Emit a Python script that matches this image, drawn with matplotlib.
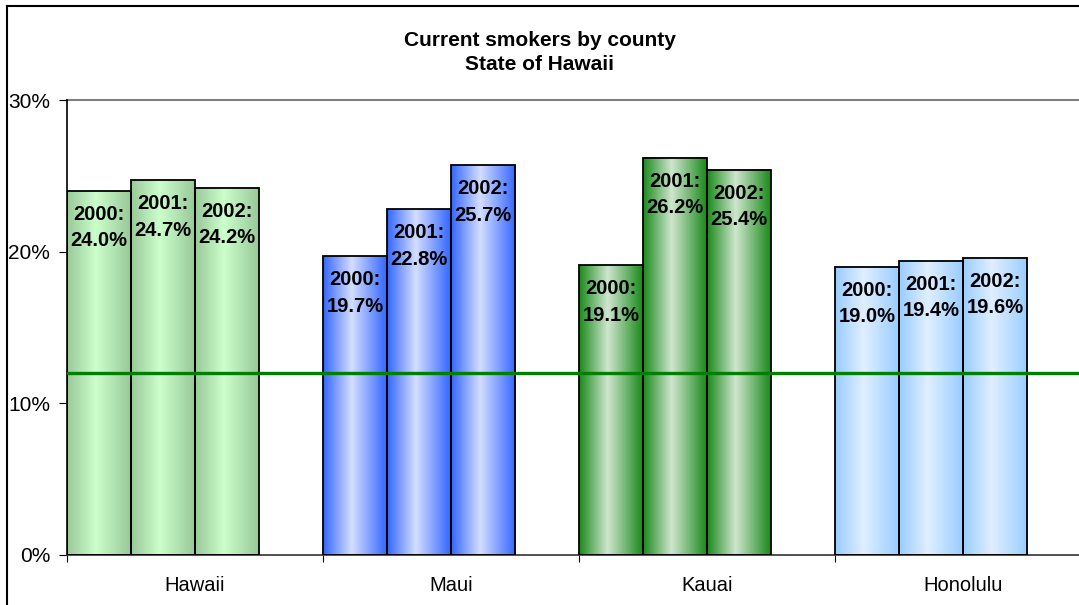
import numpy as np
import matplotlib
matplotlib.use("Agg")
import matplotlib.pyplot as plt
from matplotlib.colors import LinearSegmentedColormap
from matplotlib.lines import Line2D

plt.rcParams['font.family'] = ['Liberation Sans', 'DejaVu Sans']

# data
counties = ['Hawaii', 'Maui', 'Kauai', 'Honolulu']
years = ['2000', '2001', '2002']
hawaii = [24.0, 24.7, 24.2]
maui = [19.7, 22.8, 25.7]
kauai = [19.1, 26.2, 25.4]
honolulu = [19.0, 19.4, 19.6]
target = 12.0
yticks = [0, 10, 20, 30]

# (dark edge, light centre) per county
shades = [('#99c899', '#ccffcc'),
          ('#3366ff', '#d4deff'),
          ('#1a8a1a', '#cfe6cf'),
          ('#99ccff', '#e0efff')]

fig = plt.figure(figsize=(10.79, 6.05), dpi=100)
ax = fig.add_axes([67 / 1079, 1 - 555 / 605, 1 - 67 / 1079, 455 / 605])

bw = 0.25
grad = np.linspace(0, 1, 256).reshape(1, -1)
for i, vals in enumerate([hawaii, maui, kauai, honolulu]):
    dark, light = shades[i]
    cmap = LinearSegmentedColormap.from_list(
        'c%d' % i, [(0, dark), (0.45, light), (1, dark)])
    xs = i + bw / 2 + np.arange(len(vals)) * bw
    bars = ax.bar(xs, vals, width=bw, facecolor='none', edgecolor='black',
                  linewidth=1.3, zorder=3)
    for b, v, yr in zip(bars, vals, years):
        x0 = b.get_x()
        ax.imshow(grad, extent=[x0, x0 + bw, 0, v], aspect='auto',
                  cmap=cmap, zorder=2, interpolation='bicubic')
        ax.annotate('%s:\n%.1f%%' % (yr, v), (x0 + bw / 2, v),
                    xytext=(0, -10), textcoords='offset points',
                    ha='center', va='top', fontsize=14.5, fontweight='bold',
                    linespacing=1.5, zorder=5)

ax.axhline(target, color='#008000', linewidth=2.4, zorder=4)
ax.axhline(30, color='#808080', linewidth=1.5, zorder=1, clip_on=False)

ax.set_xlim(0, 1012 / 256)
ax.set_ylim(0, 30)
ax.set_yticks(yticks)
ax.set_yticklabels(['%d%%' % t for t in yticks])
ax.set_xticks([0, 1, 2, 3])
ax.set_xticklabels([])
ax.set_xticks([i + 0.5 for i in range(len(counties))], minor=True)
ax.set_xticklabels(counties, minor=True)
ax.tick_params(axis='x', which='minor', length=0, pad=15, labelsize=14.5)
ax.tick_params(axis='x', which='major', length=5, direction='out')
ax.tick_params(axis='y', length=6, pad=6, labelsize=15)

for s in ['top', 'right']:
    ax.spines[s].set_visible(False)
ax.spines['left'].set_linewidth(1.2)
ax.spines['bottom'].set_linewidth(1.2)
ax.spines['bottom'].set_color('#333333')

fig.text(0.5 - 0.0, 1 - 41 / 605, 'Current smokers by county',
         ha='center', va='center', fontsize=15, fontweight='bold')
fig.text(0.5 - 0.0, 1 - 65 / 605, 'State of Hawaii',
         ha='center', va='center', fontsize=15, fontweight='bold')

# outer chart frame (left and top visible)
fig.add_artist(Line2D([7 / 1079, 7 / 1079], [0, 1 - 6 / 605], color='black', linewidth=1.5))
fig.add_artist(Line2D([7 / 1079, 1], [1 - 6 / 605, 1 - 6 / 605], color='black', linewidth=1.5))

fig.savefig('out.png', dpi=100)
